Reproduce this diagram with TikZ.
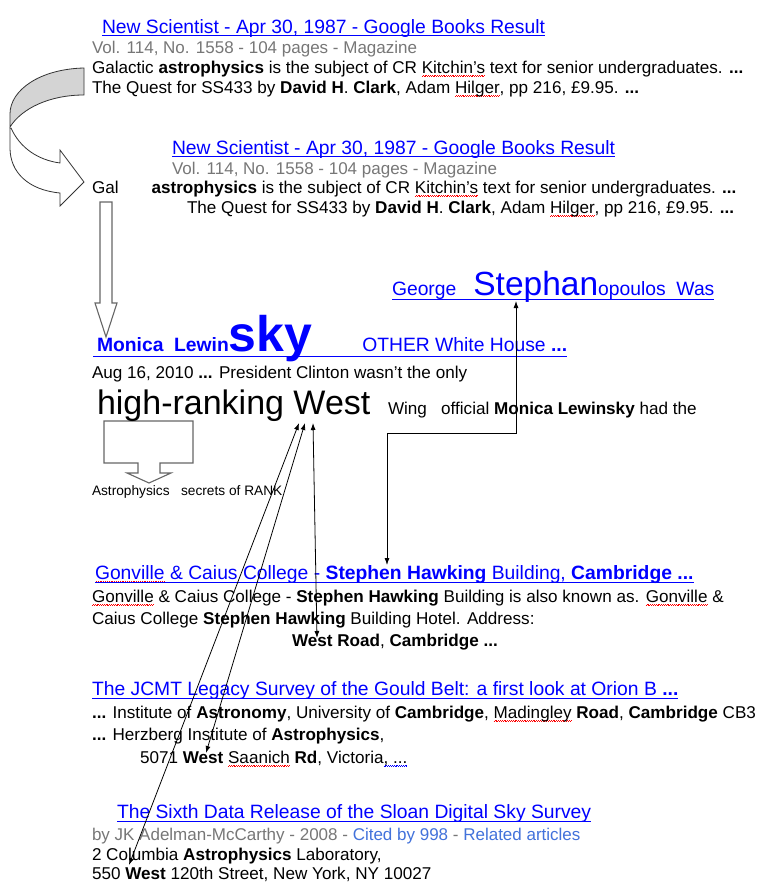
\documentclass[tikz,border=0pt]{standalone}
\usepackage{fontspec}
\setmainfont{Liberation Sans}
\usetikzlibrary{arrows.meta}
\definecolor{linkblue}{RGB}{0,0,255}
\definecolor{metagray}{RGB}{119,119,119}
\definecolor{citeblue}{RGB}{66,114,219}
\definecolor{bandgray}{RGB}{212,212,212}
\newcommand\fs[1]{\fontsize{#1}{#1}\selectfont}
% wavy spell-check marks
\newsavebox\spellbox
\newcommand\wavemark[2]{\sbox\spellbox{#2}\rlap{\textcolor{#1}{\lower3.2pt\hbox to\wd\spellbox{\xleaders\hbox{\rule{0.9pt}{0.6pt}\raise0.6pt\hbox{\rule{0.9pt}{0.6pt}}}\hfill}}}\usebox\spellbox}
\newcommand\spell[1]{\wavemark{red}{#1}}
\newcommand\bluespell[1]{\wavemark{linkblue}{#1}}

\begin{document}
\begin{tikzpicture}[x=1pt,y=-1pt]
    \tikzstyle{txt}=[anchor=base west,inner sep=0pt,outer sep=0pt]
    \tikzstyle{title}=[txt,text=linkblue,font=\fs{19.3}]
    \tikzstyle{meta}=[txt,text=metagray,font=\fs{17}]
    \tikzstyle{body}=[txt,font=\fs{17.1}]
    \tikzstyle{uline}=[draw=linkblue,line width=1pt]
    \tikzstyle{band back}=[draw=black!80,line width=0.8pt,fill=bandgray]
    \tikzstyle{band front}=[draw=black!80,line width=0.8pt,fill=white]
    \tikzstyle{block arrow}=[draw=black!60,line width=1.1pt,fill=white]
    \tikzstyle{pointer}=[<->,>={Latex[length=7pt,width=5pt]},line width=0.8pt]

    \useasboundingbox (0,0) rectangle (768,894);
    \fill[white] (0,0) rectangle (768,894);

    % Draw the curved arrow between the two copies
    \draw[band back] (84,68) .. controls (40,69) and (10,90) .. (10,114)
        -- (10,127) .. controls (22,108) and (50,95) .. (84,95) -- cycle;
    \draw[band front] (11,128) .. controls (20,148) and (38,160) .. (60,163)
        -- (60,150) -- (84,182) -- (60,206) -- (60,193)
        .. controls (28,190) and (10,172) .. (10,148) -- (10,128) -- cycle;

    % Draw the block arrows
    \draw[block arrow] (100,202) -- (112,202) -- (112,303) -- (117,303)
        -- (106,337) -- (95,303) -- (100,303) -- cycle;
    \draw[block arrow] (104,421) -- (193,421) -- (193,463) -- (160,463)
        -- (160,473) -- (171,473) -- (149,483) -- (127,473) -- (138,473)
        -- (138,463) -- (104,463) -- cycle;

    % Draw the two copies of the book result
    \foreach \name / \x / \y in {1/102/33, 2/172/154}
        \node[title] (N-\name) at (\x,\y) {New Scientist - Apr 30, 1987 - Google Books Result};
    \foreach \name / \x / \y in {1/92/53, 2/172/174}
        \node[meta] (V-\name) at (\x,\y) {Vol. 114, No. 1558 - 104 pages - Magazine};
    \node[body] (A-1) at (92,73) {Galactic \textbf{astrophysics} is the subject of CR \spell{Kitchin's} text for senior undergraduates. \textbf{...}};
    \node[body] (Q-1) at (92,93) {The Quest for SS433 by \textbf{David H}. \textbf{Clark}, Adam \spell{Hilger}, pp 216, £9.95. \textbf{...}};
    \node[body] (A-2) at (92,193) {Gal\hspace{33pt}\textbf{astrophysics} is the subject of CR \spell{Kitchin's} text for senior undergraduates. \textbf{...}};
    \node[body] (Q-2) at (187,213) {The Quest for SS433 by \textbf{David H}. \textbf{Clark}, Adam \spell{Hilger}, pp 216, £9.95. \textbf{...}};

    % Draw the mixed-size result
    \node[title] (G) at (392,295) {George\hspace{17pt}{\fs{33.5}Stephan}opoulos\ \ Was};
    \node[title,font=\fs{19.3}\bfseries] (M) at (93,351) {\hspace*{4pt}Monica\ \ Lewin{\fs{50}sky}\hspace{50pt}{\mdseries OTHER White House} ...};
    \node[body] (D) at (92,378) {Aug 16, 2010 \textbf{...} President Clinton wasn't the only};
    \node[txt,font=\fs{34}] (H) at (97,414) {high-ranking West};
    \node[body] (O) at (388,414) {Wing\ \ \ official \textbf{Monica Lewinsky} had the};
    \node[txt,font=\fs{13.7}] (K) at (92,495) {Astrophysics\ \ \ secrets of RANK};

    % Draw the lower results
    \node[title] (C) at (95,579) {\spell{Gonville} \& Caius College - \textbf{Stephen Hawking} Building, \textbf{Cambridge ...}};
    \node[body] (C-1) at (92,602) {\spell{Gonville} \& Caius College - \textbf{Stephen Hawking} Building is also known as. \spell{Gonville} \&};
    \node[body] (C-2) at (92,624) {Caius College \textbf{Stephen Hawking} Building Hotel. Address:};
    \node[body] (C-3) at (292,646) {\textbf{West Road}, \textbf{Cambridge ...}};

    \node[title] (J) at (92,695) {The JCMT Legacy Survey of the Gould Belt: a first look at Orion B \textbf{...}};
    \node[body] (J-1) at (92,718) {\textbf{...} Institute of \textbf{Astronomy}, University of \textbf{Cambridge}, \spell{Madingley} \textbf{Road}, \textbf{Cambridge} CB3};
    \node[body] (J-2) at (92,740) {\textbf{...} Herzberg Institute of \textbf{Astrophysics},};
    \node[body] (J-3) at (140,763) {5071 \textbf{West} \spell{Saanich} \textbf{Rd}, Victoria\bluespell{, ...}};

    \node[title] (S) at (117,818) {The Sixth Data Release of the Sloan Digital Sky Survey};
    \node[meta] (S-1) at (92,840) {by JK Adelman-McCarthy - 2008 - \textcolor{citeblue}{Cited by 998} - \textcolor{citeblue}{Related articles}};
    \node[body] (S-2) at (92,860) {2 Columbia \textbf{Astrophysics} Laboratory,};
    \node[body] (S-3) at (92,879) {550 \textbf{West} 120th Street, New York, NY 10027};

    % Underline the links
    \foreach \n / \d in {N-1/-2.5pt, N-2/-2.5pt, G/-4.5pt, M/-5.5pt, C/-3pt, J/-3pt, S/-3pt}
        \draw[uline] ([yshift=\d]\n.base west) -- ([yshift=\d]\n.base east);

    % Connect West with the other Wests
    \coordinate (W-1) at (313,423);
    \coordinate (W-2) at (305,423);
    \coordinate (W-3) at (299,423);
    \coordinate (R-1) at (317,638);
    \coordinate (R-2) at (206,753);
    \coordinate (R-3) at (129,865);
    \foreach \i in {1,...,3}
        \draw[pointer] (W-\i) -- (R-\i);

    % Connect Stephan with Stephen
    \coordinate (S-top) at (516,301);
    \coordinate (S-bot) at (387,565);
    \draw[pointer] (S-top) -- ++(0,132) -| (S-bot);
\end{tikzpicture}
\end{document}
